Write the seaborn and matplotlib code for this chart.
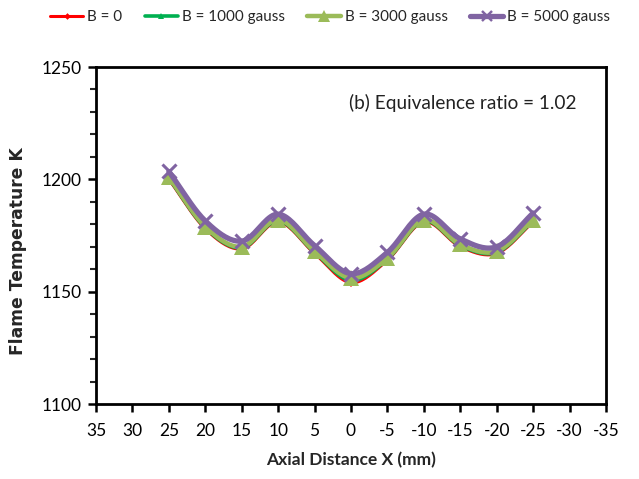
import numpy as np
import pandas as pd
import matplotlib
matplotlib.use("Agg")
import matplotlib.pyplot as plt
from matplotlib.lines import Line2D
import seaborn as sns

# ---- data ----
x_mm = [25, 20, 15, 10, 5, 0, -5, -10, -15, -20, -25]
t_b0 = [1200, 1178, 1169, 1181, 1167, 1154, 1164, 1181, 1170, 1167, 1181]
t_b1000 = [1200.5, 1178.5, 1169.5, 1181.5, 1167.5, 1155, 1164.5, 1181.5, 1170.5, 1167.5, 1181.5]
t_b3000 = [1201, 1179, 1170, 1182, 1168, 1156, 1165, 1182, 1171, 1168, 1182]
t_b5000 = [1203.5, 1181.5, 1172.5, 1184.5, 1170.5, 1158, 1167.5, 1184.5, 1173.5, 1170, 1185]
series_names = ["B = 0", "B = 1000 gauss", "B = 3000 gauss", "B = 5000 gauss"]
x_ticks = list(range(35, -40, -5))
y_ticks = [1100, 1150, 1200, 1250]

sns.set_theme(style="white")
plt.rcParams['font.family'] = ['Lato', 'DejaVu Sans']

fig = plt.figure(figsize=(6.39, 4.79), dpi=100)
ax = fig.add_axes([96/639, 1-404/479, 510/639, 337/479])

styles = [
    dict(color="#FF0000", lw=2.2, marker="D", ms=4.5, mew=0, zorder=3),
    dict(color="#00B050", lw=2.6, marker="^", ms=6, mew=0, zorder=4),
    dict(color="#9BBB59", lw=3.2, marker="^", ms=11, mew=0, zorder=5),
    dict(color="#8064A2", lw=3.8, marker="x", ms=10, mew=2.2, zorder=6),
]
all_series = [t_b0, t_b1000, t_b3000, t_b5000]


def smooth(xs, ys, n=20):
    xs = np.asarray(xs, float); ys = np.asarray(ys, float)
    P = np.column_stack([xs, ys])
    P = np.vstack([P[0] - (P[1] - P[0]), P, P[-1] + (P[-1] - P[-2])])
    out = []
    t = np.linspace(0, 1, n, endpoint=False)[:, None]
    for i in range(1, len(P) - 2):
        p0, p1, p2, p3 = P[i-1], P[i], P[i+1], P[i+2]
        seg = 0.5 * ((2*p1) + (-p0 + p2)*t + (2*p0 - 5*p1 + 4*p2 - p3)*t**2 + (-p0 + 3*p1 - 3*p2 + p3)*t**3)
        out.append(seg)
    out.append(P[-2][None, :])
    out = np.vstack(out)
    return out[:, 0], out[:, 1]

handles = []
for name, ys, st in zip(series_names, all_series, styles):
    sx, sy = smooth(x_mm, ys)
    df_line = pd.DataFrame({"x": sx, "y": sy})
    sns.lineplot(data=df_line, x="x", y="y", ax=ax, color=st["color"], lw=st["lw"],
                 sort=False, estimator=None, zorder=st["zorder"], legend=False)
    df_pts = pd.DataFrame({"x": x_mm, "y": ys})
    ax.plot(df_pts["x"], df_pts["y"], ls="none", marker=st["marker"], ms=st["ms"],
            color=st["color"], mew=st["mew"], zorder=st["zorder"])
    handles.append(Line2D([0], [0], color=st["color"], lw=st["lw"], marker=st["marker"],
                          ms=st["ms"] * 0.75, mew=st["mew"] * 0.8))

ax.set_xlim(35, -35)
ax.set_ylim(1100, 1250)
ax.set_xticks(x_ticks)
ax.set_xticklabels([str(v) for v in x_ticks])
ax.set_yticks(y_ticks)
ax.set_yticks(list(range(1100, 1251, 10)), minor=True)
ax.tick_params(axis="both", which="major", direction="out", length=6, width=1.8,
               labelsize=12.5, colors="black")
ax.tick_params(axis="y", which="minor", direction="out", length=4, width=1.5, left=True)
ax.tick_params(axis="x", which="major", bottom=True, length=6)
ax.tick_params(axis="y", which="major", left=True)
ax.tick_params(axis="x", pad=8)
ax.tick_params(axis="y", pad=4)
for s in ax.spines.values():
    s.set_visible(True)
    s.set_color("black")
    s.set_linewidth(2)

ax.set_xlabel("Axial Distance X (mm)", fontsize=12.5, fontweight="bold", labelpad=9)
ax.set_ylabel("Flame Temperature K", fontsize=12.3, fontweight="bold",
              family=["DejaVu Sans"])
ax.yaxis.set_label_coords((27 - 96) / 510, (404 - 251) / 337)

ax.text(0.497, 0.893, "(b) Equivalence ratio = 1.02", transform=ax.transAxes,
        fontsize=13.7, ha="left", va="center", color="#222222")

fig.legend(handles, series_names, loc="center", bbox_to_anchor=(330/639, 1-17/479),
           ncol=4, frameon=False, fontsize=11, handlelength=2.2, handletextpad=0.25,
           columnspacing=1.45)

fig.savefig("out.png", dpi=100)
